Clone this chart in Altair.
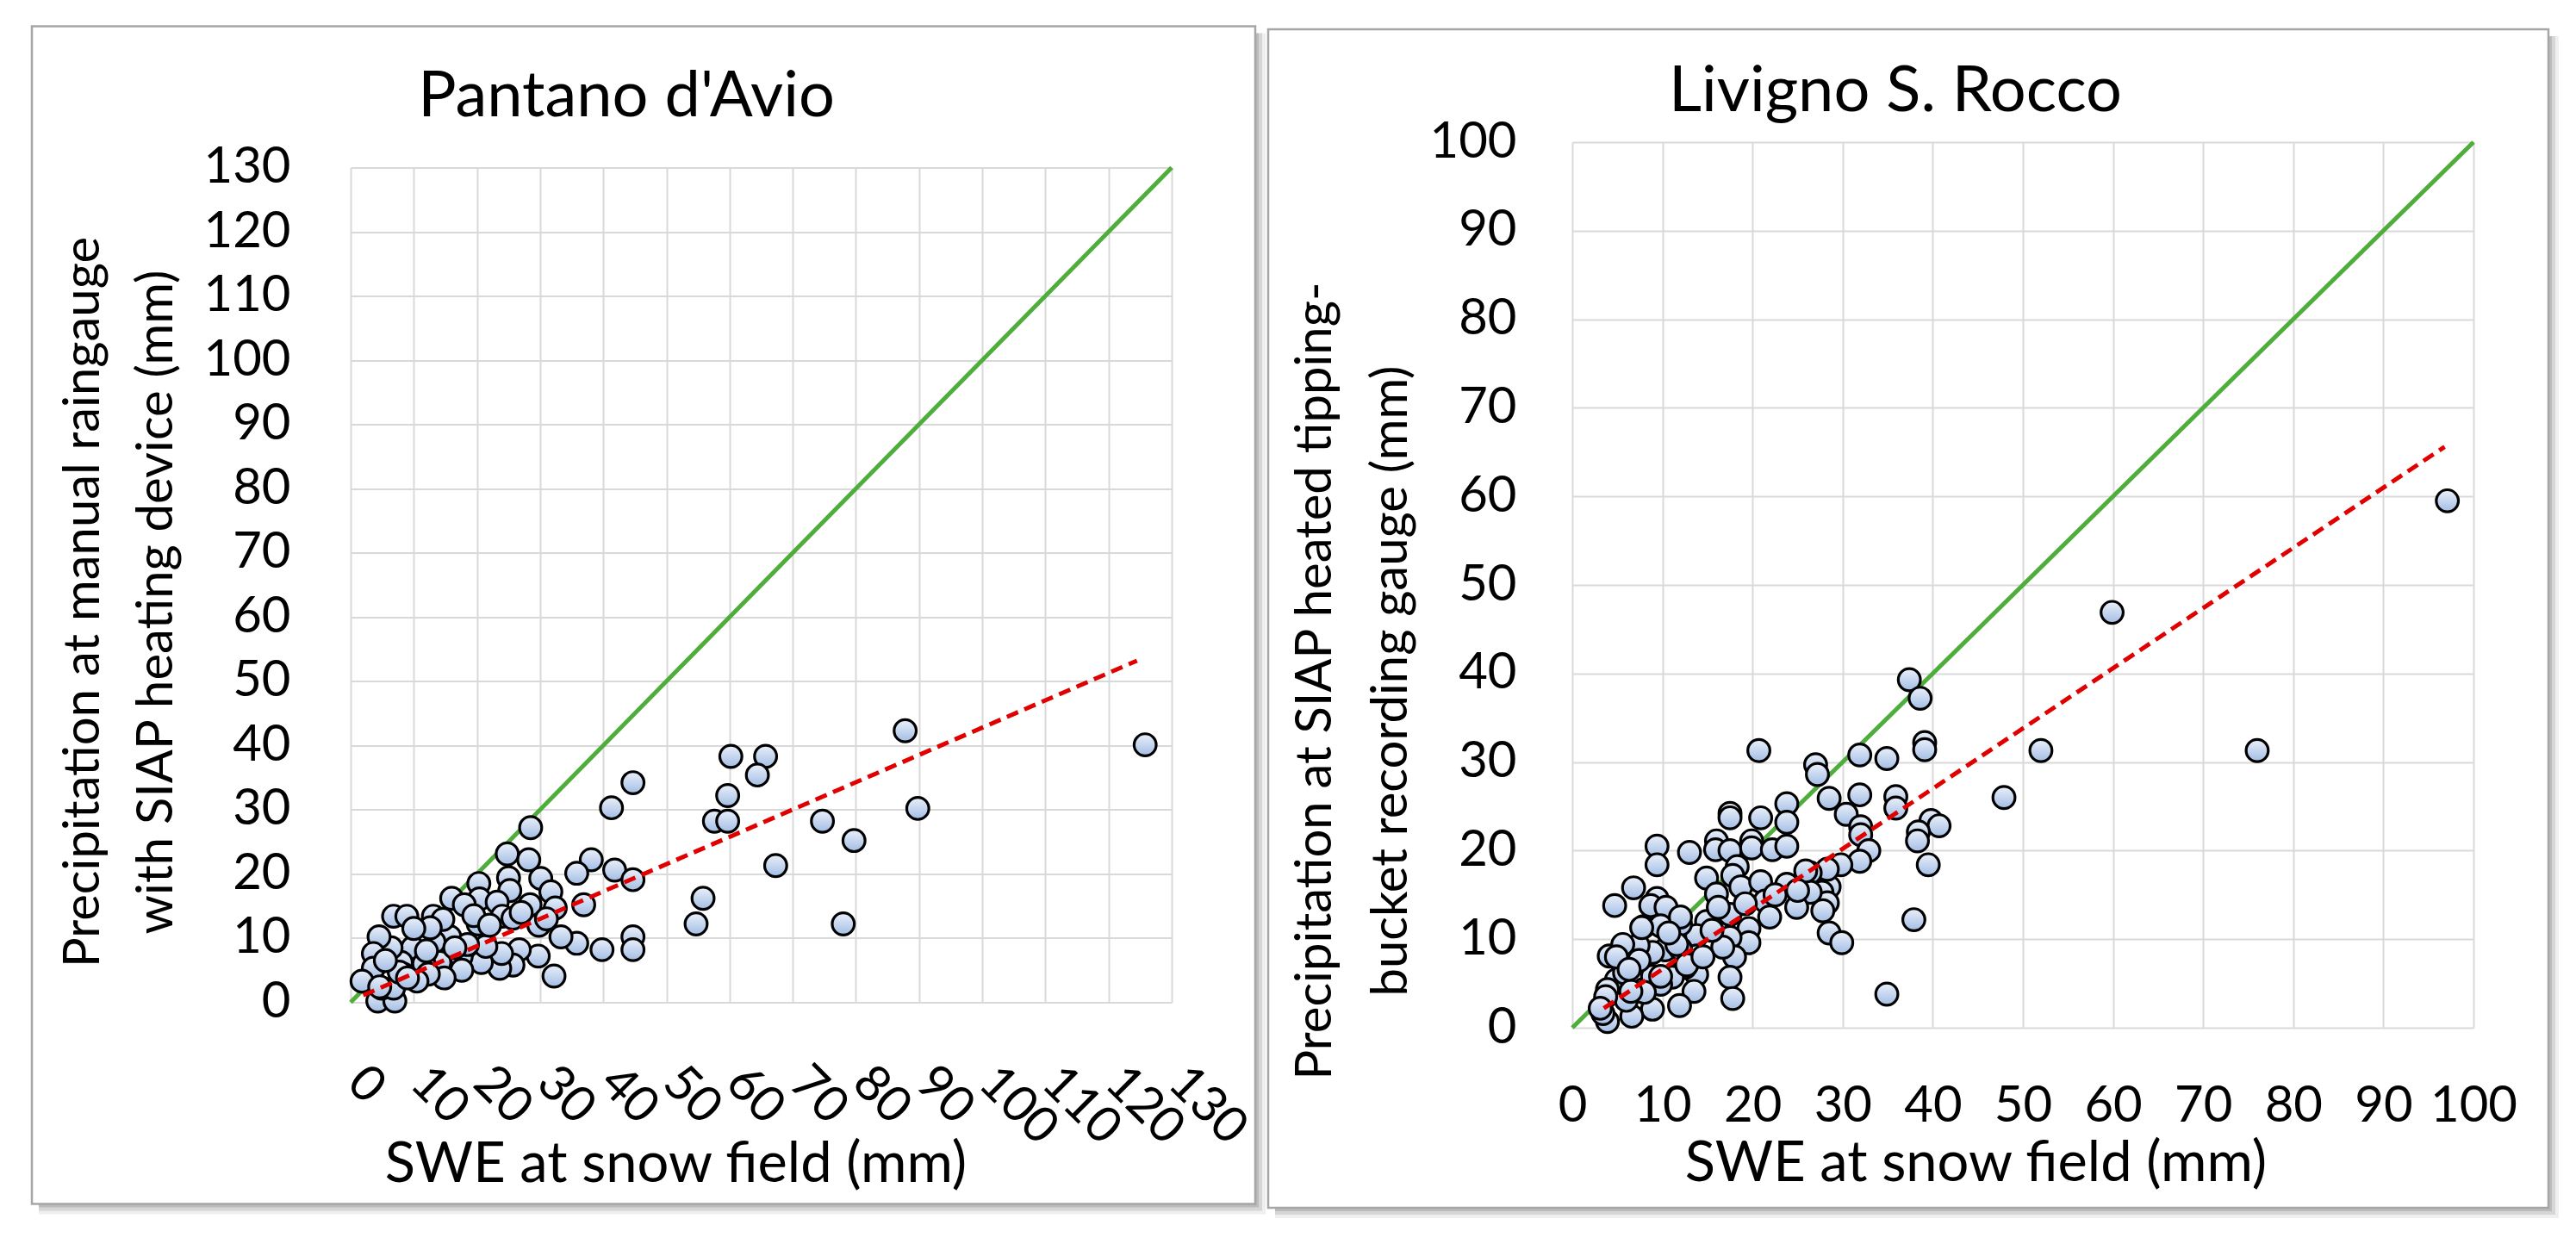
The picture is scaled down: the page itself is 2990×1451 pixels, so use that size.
import altair as alt
import pandas as pd

# ---------------- text ----------------
left_title = "Pantano d'Avio"
right_title = "Livigno S. Rocco"
x_title = "SWE at snow field (mm)"
left_y_title = ["Precipitation at manual raingauge", "with SIAP heating device (mm)"]
right_y_title = ["Precipitation at SIAP heated tipping-", "bucket recording gauge (mm)"]

# ---------------- ticks ----------------
left_ticks = [0, 10, 20, 30, 40, 50, 60, 70, 80, 90, 100, 110, 120, 130]
right_ticks = [0, 10, 20, 30, 40, 50, 60, 70, 80, 90, 100]

# ---------------- Pantano d'Avio points ----------------
left_swe = [125.8, 87.8, 89.8, 74.7, 79.7, 78.0, 67.3, 60.2, 65.7, 64.4,
            59.7, 57.6, 59.7, 55.8, 54.7, 44.7, 41.3, 41.8, 44.7, 44.7,
            44.7, 39.8, 38.1, 35.8, 36.9, 35.8, 33.3, 32.2, 29.7, 28.5,
            28.2, 24.8, 30.1, 31.7, 25.0, 25.2, 20.3, 20.4, 16.0, 18.0,
            23.2, 28.4, 32.4, 24.0, 25.7, 20.2, 29.8, 26.7, 25.7, 23.6,
            23.9, 20.7, 21.4, 17.5, 17.6, 15.7, 13.2, 14.1, 14.8, 10.9,
            9.8, 11.6, 12.3, 10.5, 8.0, 8.3, 6.4, 4.5, 3.6, 3.6,
            1.8, 4.3, 7.0, 4.9, 6.8, 7.7, 6.8, 8.9, 13.1, 14.6,
            12.6, 18.5, 9.0, 5.5, 10.0, 12.0, 16.5, 19.5, 22.0, 27.0,
            31.0, 4.6]
left_prec = [40.1, 42.3, 30.2, 28.2, 25.2, 12.2, 21.3, 38.3, 38.3, 35.4,
             32.2, 28.2, 28.2, 16.2, 12.2, 34.2, 30.3, 20.6, 19.1, 10.2,
             8.2, 8.2, 22.2, 20.1, 15.2, 9.2, 10.2, 4.1, 7.2, 27.2,
             22.2, 23.1, 19.3, 17.2, 19.4, 17.4, 18.5, 16.1, 16.2, 15.2,
             15.6, 15.2, 14.7, 13.4, 13.1, 12.2, 12.0, 8.2, 5.8, 5.3,
             7.6, 6.2, 8.7, 7.1, 5.0, 10.2, 9.4, 6.2, 3.8, 10.2,
             8.5, 6.0, 4.4, 3.3, 6.2, 4.4, 8.5, 10.2, 7.6, 5.3,
             3.3, 0.2, 0.2, 2.2, 2.2, 4.7, 13.4, 13.4, 13.4, 12.9,
             11.6, 9.0, 3.8, 6.5, 11.5, 8.0, 8.5, 13.5, 12.0, 14.0,
             13.0, 2.4]

# ---------------- Livigno S. Rocco points ----------------
right_swe = [97.1, 59.9, 76.0, 52.0, 47.9, 37.4, 38.6, 39.1, 39.1, 31.9,
             34.9, 27.0, 27.2, 28.5, 31.9, 35.9, 35.9, 30.4, 32.0, 32.0,
             32.9, 31.9, 29.8, 39.8, 40.7, 38.4, 38.3, 39.5, 37.9, 34.9,
             28.5, 27.7, 28.3, 27.8, 28.5, 29.9, 28.3, 26.4, 26.4, 20.7,
             17.5, 17.5, 20.9, 23.8, 23.8, 9.4, 9.4, 13.0, 16.0, 15.9,
             17.5, 19.9, 19.9, 22.2, 23.8, 18.3, 17.8, 14.9, 18.7, 20.9,
             23.8, 25.9, 24.9, 21.4, 21.9, 6.8, 4.7, 9.4, 8.7, 16.0,
             17.5, 19.2, 19.6, 19.6, 17.5, 18.0, 17.5, 17.8, 14.9, 13.8,
             13.8, 13.8, 13.5, 12.5, 11.9, 12.0, 10.6, 11.1, 10.3, 8.9,
             7.9, 7.3, 6.3, 4.1, 5.4, 7.9, 8.9, 9.8, 8.9, 6.6,
             4.9, 3.9, 3.9, 3.4, 6.0, 5.8, 12.0, 16.2, 16.7, 10.4,
             9.8, 12.0, 7.7, 11.6, 12.7, 10.7, 7.4, 8.0, 6.5, 5.6,
             4.9, 3.7, 3.1, 6.3, 9.8, 14.5, 15.5, 22.5, 25.0]
right_prec = [59.5, 46.9, 31.3, 31.3, 26.0, 39.3, 37.2, 32.2, 31.4, 30.8,
              30.4, 29.7, 28.6, 25.9, 26.3, 26.1, 24.8, 24.1, 22.7, 21.8,
              20.0, 18.8, 18.4, 23.4, 22.8, 22.1, 21.1, 18.4, 12.2, 3.8,
              15.9, 15.3, 14.1, 13.2, 10.7, 9.6, 17.9, 17.5, 15.3, 31.3,
              24.2, 23.7, 23.7, 25.3, 23.2, 20.5, 18.4, 19.8, 21.1, 20.1,
              20.0, 21.1, 20.3, 20.1, 20.5, 18.2, 17.2, 16.9, 15.9, 16.5,
              16.2, 17.7, 13.6, 14.3, 12.5, 15.8, 13.8, 14.6, 13.8, 15.1,
              12.8, 14.0, 11.2, 9.6, 10.2, 8.0, 5.7, 3.3, 12.0, 10.4,
              8.1, 6.0, 4.1, 6.8, 2.5, 11.7, 10.9, 5.7, 8.8, 8.5,
              11.4, 9.3, 7.5, 8.1, 8.5, 4.3, 2.1, 4.9, 5.8, 1.3,
              5.4, 4.3, 0.7, 1.6, 3.1, 6.2, 8.9, 13.6, 9.1, 13.6,
              11.5, 12.5, 11.3, 9.4, 7.1, 10.7, 7.6, 4.0, 4.1, 9.4,
              8.0, 3.5, 2.2, 6.6, 5.8, 8.0, 11.0, 15.0, 15.5]

# ---------------- reference (1:1) and trend lines ----------------
left_one_x = [0, 130]
left_one_y = [0, 130]
right_one_x = [0, 100]
right_one_y = [0, 100]
left_trend_x = [2.0, 124.5]
left_trend_y = [1.1, 53.2]
right_trend_x = [3.5, 96.8]
right_trend_y = [2.2, 65.6]

FONT = "Lato"
point_fill = {
    "gradient": "linear", "x1": 0, "y1": 0, "x2": 0, "y2": 1,
    "stops": [{"offset": 0, "color": "#eaf0fa"}, {"offset": 1, "color": "#a3bde4"}],
}


def panel(swe, prec, one_x, one_y, tr_x, tr_y, ticks, dmax, w, h,
          title, title_xy, ytitle, xaxis_extra, yaxis_extra, frame):
    xs = alt.Scale(domain=[0, dmax], nice=False, zero=True)
    ys = alt.Scale(domain=[0, dmax], nice=False, zero=True)
    xa = alt.Axis(values=ticks, title=x_title, labelOverlap=False, labelBound=False,
                  titleAngle=0, titleAlign="center", titleBaseline="middle",
                  titleFontSize=65, **xaxis_extra)
    ya = alt.Axis(values=ticks, title=ytitle, labelOverlap=False, labelBound=False,
                  labelAlign="right", labelBaseline="middle",
                  titleAngle=-90, titleAlign="center", titleBaseline="middle",
                  titleFontSize=58, **yaxis_extra)
    X = alt.X("swe:Q", scale=xs, axis=xa)
    Y = alt.Y("prec:Q", scale=ys, axis=ya)

    fx1, fx2, fy1, fy2 = frame
    one = pd.DataFrame({"k": [0]})
    layers = []
    # soft shadow (right and bottom strips)
    for off, op in [(4, 0.30), (8, 0.22), (12, 0.12)]:
        layers.append(alt.Chart(one).mark_rect(color="#7f7f7f", opacity=op).encode(
            x=alt.value(fx2), x2=alt.value(fx2 + off),
            y=alt.value(fy1 + 8), y2=alt.value(fy2 + off)))
        layers.append(alt.Chart(one).mark_rect(color="#7f7f7f", opacity=op).encode(
            x=alt.value(fx1 + 8), x2=alt.value(fx2),
            y=alt.value(fy2), y2=alt.value(fy2 + off)))
    layers.append(alt.Chart(one).mark_rect(fillOpacity=0, stroke="#a6a6a6", strokeWidth=2.5).encode(
        x=alt.value(fx1), x2=alt.value(fx2), y=alt.value(fy1), y2=alt.value(fy2)))
    layers.append(alt.Chart(pd.DataFrame({"t": [title]})).mark_text(
        font=FONT, fontSize=74, align="center", baseline="alphabetic", color="black").encode(
        x=alt.value(title_xy[0]), y=alt.value(title_xy[1]), text="t:N"))
    layers.append(alt.Chart(pd.DataFrame({"swe": one_x, "prec": one_y})).mark_line(
        color="#4fad3b", strokeWidth=5).encode(x=X, y=Y))
    layers.append(alt.Chart(pd.DataFrame({"swe": swe, "prec": prec})).mark_point(
        shape="circle", filled=True, fill=point_fill, stroke="black", strokeWidth=3.2,
        size=660, opacity=1).encode(x=X, y=Y))
    layers.append(alt.Chart(pd.DataFrame({"swe": tr_x, "prec": tr_y})).mark_line(
        color="#e00000", strokeWidth=5, strokeDash=[14, 8]).encode(x=X, y=Y))
    return alt.layer(*layers).properties(width=w, height=h)


left = panel(left_swe, left_prec, left_one_x, left_one_y, left_trend_x, left_trend_y,
             left_ticks, 130, 953, 969, left_title, (320, -60), left_y_title,
             dict(labelAngle=45, labelAlign="left", labelBaseline="middle",
                  labelPadding=84, labelOffset=5, titleX=377, titleY=188),
             dict(labelPadding=70, titleX=-310, titleY=504, titleLineHeight=85),
             (-370, 1050, -164, 1203))

right = panel(right_swe, right_prec, right_one_x, right_one_y, right_trend_x, right_trend_y,
              right_ticks, 100, 1046, 1028, right_title, (375, -36), right_y_title,
              dict(labelAngle=0, labelAlign="center", labelBaseline="top",
                   labelPadding=62, titleX=468, titleY=157),
              dict(labelPadding=65, titleX=-298, titleY=625, titleLineHeight=88),
              (-353, 1133, -131, 1237))

chart = alt.hconcat(left, right, spacing=465, bounds="flush", center=True).properties(
    padding={"left": 27, "top": 21, "right": 5, "bottom": 5}
).configure_view(strokeWidth=0).configure_axis(
    grid=True, gridColor="#d9d9d9", gridWidth=2, domain=False, ticks=False, tickSize=0,
    labelFont=FONT, labelFontSize=58, labelColor="#000000",
    titleFont=FONT, titleFontSize=58, titleFontWeight="normal", titleColor="#000000",
)

chart.save("out.html", embed_options={"renderer": "svg", "actions": False})
